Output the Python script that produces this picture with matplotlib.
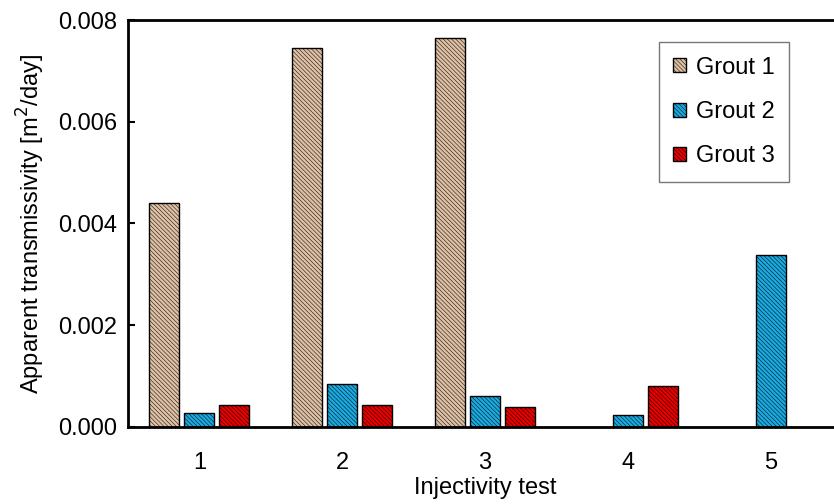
import numpy as np
import matplotlib.pyplot as plt
from matplotlib.ticker import FormatStrFormatter

plt.rcParams['font.family'] = ['Liberation Sans', 'DejaVu Sans']
plt.rcParams['hatch.linewidth'] = 0.35

tests = [1, 2, 3, 4, 5]
grout1 = [0.00440, 0.00745, 0.00765, 0.0, 0.0]
grout2 = [0.00027, 0.00084, 0.00061, 0.00023, 0.00338]
grout3 = [0.00043, 0.00043, 0.00039, 0.00080, 0.0]
series_labels = ['Grout 1', 'Grout 2', 'Grout 3']
colors = ['#dfc0a4', '#1aaae0', '#e80000']

fig = plt.figure(figsize=(8.34, 5.04), dpi=100)
ax = fig.add_axes([0.1535, 0.1528, 0.856, 0.8075])

x = np.array(tests, dtype=float)
width = 0.21
offsets = [-0.245, 0.0, 0.245]
for vals, off, col, lab in zip([grout1, grout2, grout3], offsets, colors, series_labels):
    v = np.array(vals)
    mask = v > 0
    ax.bar(x[mask] + off, v[mask], width, color=col, edgecolor='black',
           linewidth=1.0, hatch='\\' * 8, label=lab)

ax.set_xlim(0.5, 5.5)
ax.set_ylim(0, 0.008)
ax.set_xticks(tests)
ax.set_yticks([0, 0.002, 0.004, 0.006, 0.008])
ax.yaxis.set_major_formatter(FormatStrFormatter('%.3f'))
ax.tick_params(axis='y', direction='in', length=5, width=1.5, labelsize=17, pad=8)
ax.tick_params(axis='x', length=0, labelsize=17, pad=18)
for s in ax.spines.values():
    s.set_linewidth(2)

ax.set_xlabel('Injectivity test', fontsize=17, labelpad=2)
ax.set_ylabel('Apparent transmissivity [m$^2$/day]', fontsize=17, labelpad=8)

leg = ax.legend(loc='upper left', bbox_to_anchor=(0.744, 0.945), fontsize=17,
                fancybox=False, edgecolor='#555555', handlelength=0.55,
                handleheight=0.55, handletextpad=0.4, labelspacing=0.95,
                borderpad=0.6, borderaxespad=0)
leg.get_frame().set_linewidth(1.0)

fig.savefig('out.png', dpi=100)
